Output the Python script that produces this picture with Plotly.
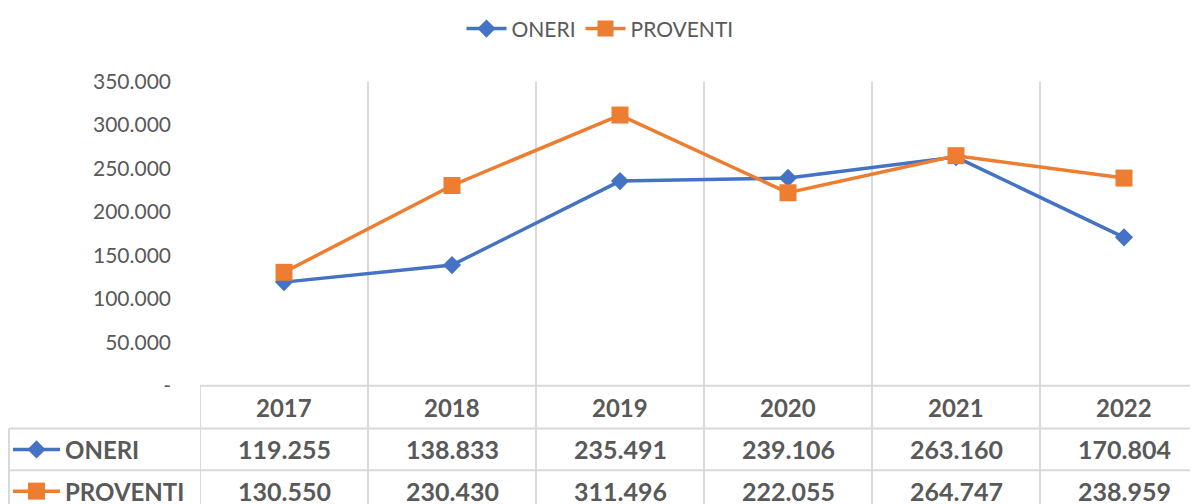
import plotly.graph_objects as go

years = ["2017", "2018", "2019", "2020", "2021", "2022"]
oneri = [119255, 138833, 235491, 239106, 263160, 170804]
proventi = [130550, 230430, 311496, 222055, 264747, 238959]
series_names = ["ONERI", "PROVENTI"]
y_ticks = [0, 50000, 100000, 150000, 200000, 250000, 300000, 350000]

W, H = 1198, 504
BLUE = "#4472C4"
ORANGE = "#ED7D31"
TXT = "#595959"
GRID = "#D9D9D9"
FONT = "Lato"

# the page body adds an 8px offset; geometry below is in figure pixels
OFF = 8
plot_l, plot_t, plot_b = 200 - OFF, 79 - OFF, 385 - OFF
col_w = 168
row_centers = [407 - OFF, 449 - OFF, 491 - OFF]
row_lines = [428 - OFF, 470 - OFF]
table_left = 8 - OFF + 1
legend_y = 26 - OFF


def fmt(v):
    return "-" if v == 0 else f"{v:,}".replace(",", ".")


def py(p):
    return 1 - p / H


xs = list(range(len(years)))
x_max = -0.5 + (W - plot_l) / col_w

fig = go.Figure()
fig.add_trace(go.Scatter(
    x=xs, y=oneri, name=series_names[0], mode="lines+markers",
    line=dict(color=BLUE, width=3.5),
    marker=dict(symbol="diamond", size=14, color=BLUE),
    cliponaxis=False,
))
fig.add_trace(go.Scatter(
    x=xs, y=proventi, name=series_names[1], mode="lines+markers",
    line=dict(color=ORANGE, width=3.5),
    marker=dict(symbol="square", size=17, color=ORANGE),
    cliponaxis=False,
))

# legend keys inside the data table (overlay pixel axes)
for name, color, sym, size, yc in [
    (series_names[0], BLUE, "diamond", 14, row_centers[1]),
    (series_names[1], ORANGE, "square", 17, row_centers[2]),
]:
    fig.add_trace(go.Scatter(
        x=[13 - OFF, 60 - OFF], y=[yc, yc], mode="lines", line=dict(color=color, width=3.5),
        xaxis="x2", yaxis="y2", showlegend=False, hoverinfo="skip",
    ))
    fig.add_trace(go.Scatter(
        x=[36.5 - OFF], y=[yc], mode="markers", marker=dict(symbol=sym, size=size, color=color),
        xaxis="x2", yaxis="y2", showlegend=False, hoverinfo="skip",
    ))

shapes = []
for i in range(len(years) + 1):
    shapes.append(dict(type="line", xref="x", yref="paper",
                       x0=i - 0.5, x1=i - 0.5, y0=py(plot_b), y1=0,
                       line=dict(color=GRID, width=2)))
for r in row_lines:
    shapes.append(dict(type="line", xref="paper", yref="paper",
                       x0=table_left / W, x1=1, y0=py(r), y1=py(r),
                       line=dict(color=GRID, width=2)))
shapes.append(dict(type="line", xref="paper", yref="paper",
                   x0=plot_l / W, x1=1, y0=py(plot_b), y1=py(plot_b),
                   line=dict(color=GRID, width=2)))
shapes.append(dict(type="line", xref="paper", yref="paper",
                   x0=table_left / W, x1=table_left / W, y0=py(row_lines[0]), y1=0,
                   line=dict(color=GRID, width=2)))

annotations = []
nfont = dict(family=FONT, size=25, color=TXT)
lfont = dict(family=FONT, size=24, color=TXT)
for i, yr in enumerate(years):
    annotations.append(dict(x=i, y=py(row_centers[0]), xref="x", yref="paper",
                            text=f"<b>{yr}</b>", showarrow=False, font=lfont,
                            xanchor="center", yanchor="middle"))
    annotations.append(dict(x=i, y=py(row_centers[1]), xref="x", yref="paper",
                            text=f"<b>{fmt(oneri[i])}</b>", showarrow=False, font=nfont,
                            xanchor="center", yanchor="middle"))
    annotations.append(dict(x=i, y=py(row_centers[2]), xref="x", yref="paper",
                            text=f"<b>{fmt(proventi[i])}</b>", showarrow=False, font=nfont,
                            xanchor="center", yanchor="middle"))
for name, yc in zip(series_names, row_centers[1:]):
    annotations.append(dict(x=(63 - OFF) / W, y=py(yc), xref="paper", yref="paper",
                            text=f"<b>{name}</b>", showarrow=False, font=lfont,
                            xanchor="left", yanchor="middle"))

fig.update_layout(
    width=W, height=H,
    margin=dict(l=0, r=0, t=0, b=0),
    paper_bgcolor="white",
    plot_bgcolor="rgba(0,0,0,0)",
    font=dict(family=FONT, color=TXT),
    showlegend=True,
    legend=dict(orientation="h", x=(600 - OFF) / W, xanchor="center", y=py(legend_y), yanchor="middle",
                font=dict(family=FONT, size=21, color=TXT), itemwidth=40,
                bgcolor="rgba(0,0,0,0)"),
    xaxis=dict(domain=[plot_l / W, 1], range=[-0.5, x_max],
               tickvals=[i - 0.5 for i in range(len(years) + 1)],
               showticklabels=False, showgrid=True, gridcolor=GRID, gridwidth=2,
               zeroline=False, showline=False, ticks="", fixedrange=True),
    yaxis=dict(domain=[py(plot_b), py(plot_t)], range=[0, 350000],
               tickvals=y_ticks, ticktext=[fmt(v) for v in y_ticks],
               showgrid=False, zeroline=False, showline=False, ticks="",
               tickfont=dict(family=FONT, size=21, color=TXT),
               ticklabelstandoff=28, automargin=False, fixedrange=True),
    xaxis2=dict(domain=[0, 1], range=[0, W], visible=False, anchor="y2", fixedrange=True),
    yaxis2=dict(domain=[0, 1], range=[H, 0], visible=False, anchor="x2", fixedrange=True),
    shapes=shapes,
    annotations=annotations,
)

fig.write_html("out.html")
